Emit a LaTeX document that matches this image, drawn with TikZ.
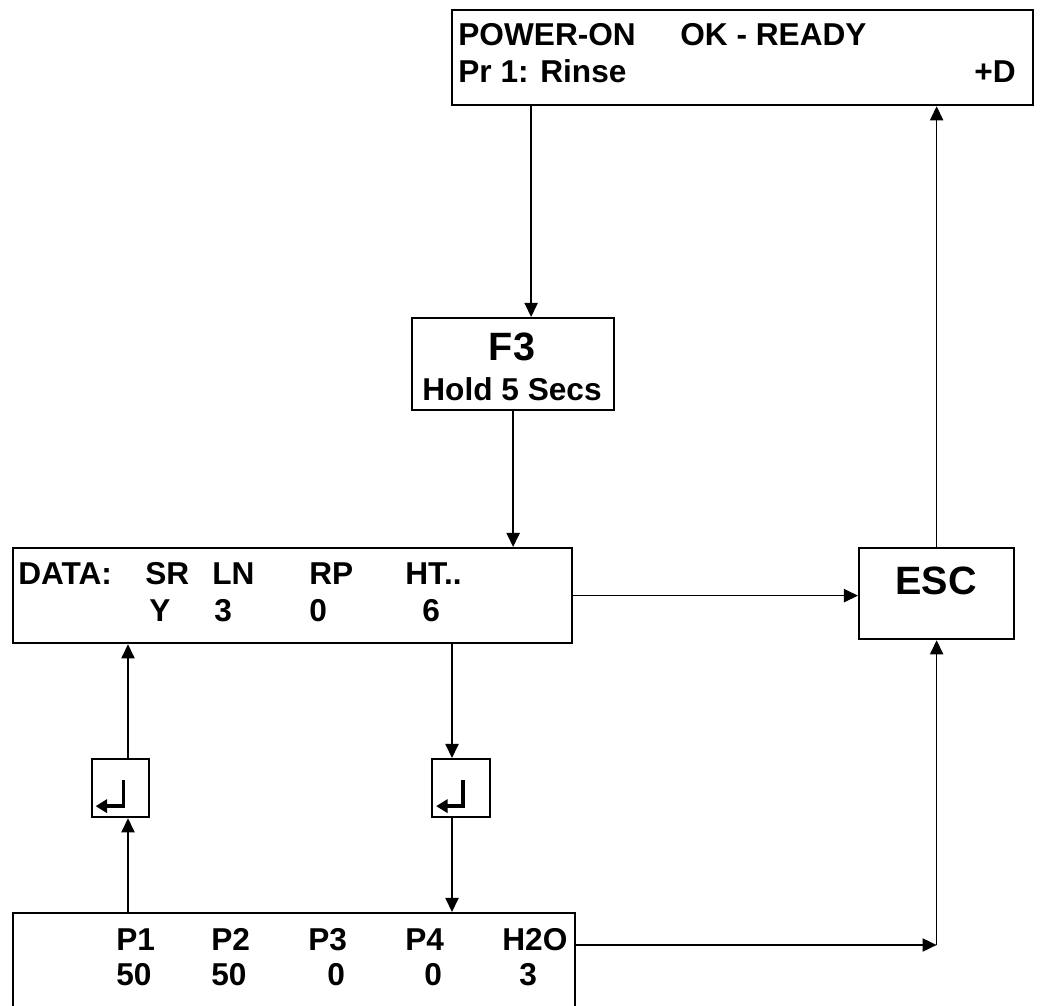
\documentclass[tikz,border=0pt]{standalone}
\usepackage{fontspec}
\setmainfont{Liberation Sans}
\usetikzlibrary{arrows.meta}
\tikzset{
  panel/.style={draw, line width=1.3pt, inner sep=0pt, anchor=north west},
  txt/.style={font=\bfseries\fontsize{18}{21}\selectfont, inner sep=0pt, anchor=base west},
  key/.style={font=\bfseries\fontsize{22.5}{26}\selectfont, inner sep=0pt, anchor=base},
  flow/.style={line width=0.8pt, -{Triangle[length=8pt,width=7.5pt]}},
  enter/.style={line width=2.1pt, -{Triangle[length=6.5pt,width=7.5pt]}},
}
\begin{document}
\begin{tikzpicture}[x=0.02cm, y=-0.02cm]
\useasboundingbox (0,0) rectangle (1042,1006);
% boxes
\node[panel, minimum width=11.62cm, minimum height=1.9cm] (power) at (451,9) {};
\node[panel, minimum width=4.04cm, minimum height=1.84cm] (f3) at (411,317) {};
\node[panel, minimum width=11.18cm, minimum height=1.9cm] (data) at (12,547) {};
\node[panel, minimum width=3.1cm, minimum height=1.82cm] (esc) at (858,547) {};
\node[panel, minimum width=1.14cm, minimum height=1.16cm] (entL) at (91,758) {};
\node[panel, minimum width=1.16cm, minimum height=1.16cm] (entR) at (431,758) {};
\node[panel, minimum width=11.24cm, minimum height=2.4cm] (vals) at (12,912) {};
% texts
\node[txt] (pwr1) at (458,46) {POWER-ON};
\node[txt] (pwr2) at (680,46) {OK - READY};
\node[txt] (pr1) at (458,83) {Pr 1: Rinse};
\node[txt, anchor=base east] (plusd) at (1016,83) {+D};
\node[key] (f3a) at (512,361) {F3};
\node[txt, anchor=base] (f3b) at (512,401) {Hold 5 Secs};
\node[key] (esca) at (936,595) {ESC};
\node[txt] (dhead) at (18,585) {DATA:};
\node[txt] (dsr) at (145,585) {SR};
\node[txt] (dln) at (212,585) {LN};
\node[txt] (drp) at (309,585) {RP};
\node[txt] (dht) at (405,585) {HT..};
\node[txt] (dy) at (149,622) {Y};
\node[txt] (d3) at (214,622) {3};
\node[txt] (d0) at (309,622) {0};
\node[txt] (d6) at (422,622) {6};
\node[txt] (p1) at (116,950) {P1};
\node[txt] (p2) at (211,950) {P2};
\node[txt] (p3) at (308,950) {P3};
\node[txt] (p4) at (405,950) {P4};
\node[txt] (h2o) at (502,950) {H2O};
\node[txt] (v1) at (116,985) {50};
\node[txt] (v2) at (211,985) {50};
\node[txt] (v3) at (327,985) {0};
\node[txt] (v4) at (424,985) {0};
\node[txt] (v5) at (519,985) {3};
% enter symbols
\draw[enter] ([shift={(3,-8)}]entL.center) -- ([shift={(3,18)}]entL.center) -- ([shift={(-25,18)}]entL.center);
\draw[enter] ([shift={(2,-8)}]entR.center) -- ([shift={(2,18)}]entR.center) -- ([shift={(-25,18)}]entR.center);
% connectors
\coordinate (upcol) at (128,0);
\coordinate (dncol) at (452,0);
\coordinate (junc) at (esc.south |- 0,945);
\draw[flow] ([xshift=0.36cm]f3.north |- power.south) -- ([xshift=0.36cm]f3.north);
\draw[flow] (f3.south) -- (f3.south |- data.north);
\draw[flow] (data.east) -- (data.east -| esc.west);
\draw[flow] (esc.north) -- (esc.north |- power.south);
\draw[flow] (dncol |- data.south) -- (dncol |- entR.north);
\draw[flow] (dncol |- entR.south) -- (dncol |- vals.north);
\draw[flow] (upcol |- vals.north) -- (upcol |- entL.south);
\draw[flow] (upcol |- entL.north) -- (upcol |- data.south);
\draw[flow] (vals.east |- junc) -- (junc);
\draw[flow] (junc) -- (esc.south);
\end{tikzpicture}
\end{document}
